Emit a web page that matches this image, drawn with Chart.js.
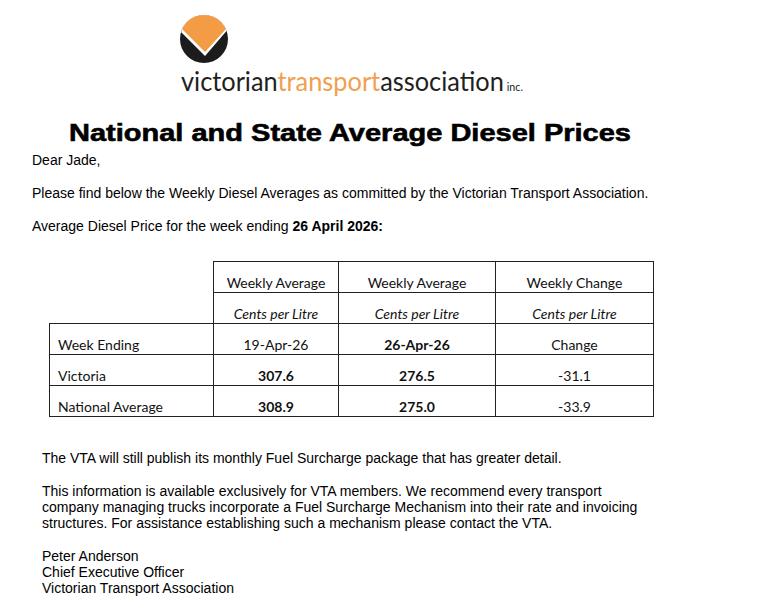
<!DOCTYPE html>
<html>
<head>
<meta charset="utf-8">
<script src="https://cdn.jsdelivr.net/npm/chart.js@4.4.1/dist/chart.umd.min.js"></script>
<style>
  html, body { margin: 0; padding: 0; background: #fff; }
  body { width: 758px; height: 612px; position: relative; overflow: hidden;
         font-family: "Liberation Sans", Arial, sans-serif; font-size: 14px; color: #000; }
  .abs { position: absolute; white-space: nowrap; }
  .line { line-height: 16px; }
  #logo { left: 180px; top: 15px; width: 48px; height: 48px; }
  #brand { left: 181px; top: 68px; font-family: Lato, sans-serif; font-weight: 400;
           font-size: 26px; line-height: 26px; color: #231f20; transform-origin: 0 0; }
  #brand .orange { color: #f0a050; }
  #brand .inc { font-size: 11px; margin-left: 3px; }
  #title { left: 0; top: 121px; width: 700px; text-align: center; font-weight: bold;
           font-size: 24px; line-height: 24px; transform-origin: 350px 0;
           -webkit-text-stroke: 0.6px #000; }
  table { position: absolute; left: 49px; top: 261px; border-collapse: collapse;
          table-layout: fixed; font-family: Lato, sans-serif; font-size: 14px; color: #111; }
  td { border: 1px solid #222; height: 29px; padding: 0 0 1px 0; line-height: 17px;
       vertical-align: bottom; text-align: center; white-space: nowrap; }
  td.blank { border-top: none; border-left: none; border-bottom: none; }
  td.label { text-align: left; padding-left: 8px; }
  td.unit { font-style: italic; }
  td.bold { font-weight: bold; }
</style>
</head>
<body>
<canvas id="logo" class="abs" width="48" height="48"></canvas>
<div id="brand" class="abs">victorian<span class="orange">transport</span>association<span class="inc">inc.</span></div>

<div id="title" class="abs">National and State Average Diesel Prices</div>

<div class="abs line" style="left:32px; top:152px;">Dear Jade,</div>
<div class="abs line" style="left:32px; top:185px;">Please find below the Weekly Diesel Averages as committed by the Victorian Transport Association.</div>
<div class="abs line" style="left:32px; top:218px;">Average Diesel Price for the week ending <b>26 April 2026:</b></div>

<table id="prices">
  <colgroup><col style="width:164px"><col style="width:125px"><col style="width:157px"><col style="width:158px"></colgroup>
  <tbody></tbody>
</table>

<div class="abs line" style="left:42px; top:450px;">The VTA will still publish its monthly Fuel Surcharge package that has greater detail.</div>
<div class="abs line" style="left:42px; top:483px;">This information is available exclusively for VTA members. We recommend every transport<br>company managing trucks incorporate a Fuel Surcharge Mechanism into their rate and invoicing<br>structures. For assistance establishing such a mechanism please contact the VTA.</div>
<div class="abs line" style="left:42px; top:548px;">Peter Anderson<br>Chief Executive Officer<br>Victorian Transport Association</div>

<script>
// table data
const headers = ['Weekly Average', 'Weekly Average', 'Weekly Change'];
const units = ['Cents per Litre', 'Cents per Litre', 'Cents per Litre'];
const weekEnding = ['19-Apr-26', '26-Apr-26', 'Change'];
const regions = ['Victoria', 'National Average'];
const previousWeek = [307.6, 308.9];
const currentWeek = [276.5, 275.0];
const weeklyChange = [-31.1, -33.9];

const body = document.querySelector('#prices tbody');

function addRow(cells) {
    const tr = document.createElement('tr');
    cells.forEach(c => {
        const td = document.createElement('td');
        td.textContent = c.text;
        if (c.cls) td.className = c.cls;
        tr.appendChild(td);
    });
    body.appendChild(tr);
}

addRow([{ text: '', cls: 'blank' }].concat(headers.map(h => ({ text: h }))));
addRow([{ text: '', cls: 'blank' }].concat(units.map(u => ({ text: u, cls: 'unit' }))));
addRow([{ text: 'Week Ending', cls: 'label' },
        { text: weekEnding[0] }, { text: weekEnding[1], cls: 'bold' }, { text: weekEnding[2] }]);
regions.forEach((r, i) => {
    addRow([{ text: r, cls: 'label' },
            { text: previousWeek[i].toFixed(1), cls: 'bold' },
            { text: currentWeek[i].toFixed(1), cls: 'bold' },
            { text: weeklyChange[i].toFixed(1) }]);
});

// fit the wordmark to the logo width
const brand = document.getElementById('brand');
const w = brand.getBoundingClientRect().width;
brand.style.transform = 'scaleX(' + (342 / w) + ')';

// stretch the heading to the width it has in the letter
const title = document.getElementById('title');
const range = document.createRange();
range.selectNodeContents(title);
const tw = range.getBoundingClientRect().width;
title.style.transform = 'scaleX(' + (562 / tw) + ')';

// logo: black disc from a pie, orange V painted on top
const logoV = {
    id: 'logoV',
    afterDatasetsDraw(chart) {
        const arc = chart.getDatasetMeta(0).data[0];
        const ctx = chart.ctx;
        const cx = arc.x, cy = arc.y, r = arc.outerRadius;
        const s = r / 24;
        ctx.save();
        ctx.beginPath();
        ctx.arc(cx, cy, r, 0, Math.PI * 2);
        ctx.clip();
        ctx.fillStyle = '#ffffff';
        ctx.beginPath();
        ctx.moveTo(cx - 30 * s, cy - 30 * s);
        ctx.lineTo(cx - 30 * s, cy - 14 * s);
        ctx.lineTo(cx + 1 * s, cy + 17 * s);
        ctx.lineTo(cx + 32 * s, cy - 19 * s);
        ctx.lineTo(cx + 32 * s, cy - 30 * s);
        ctx.closePath();
        ctx.fill();
        ctx.fillStyle = '#f39c45';
        ctx.beginPath();
        ctx.moveTo(cx - 30 * s, cy - 30 * s);
        ctx.lineTo(cx - 30 * s, cy - 18 * s);
        ctx.lineTo(cx + 1 * s, cy + 13 * s);
        ctx.lineTo(cx + 32 * s, cy - 21 * s);
        ctx.lineTo(cx + 32 * s, cy - 30 * s);
        ctx.closePath();
        ctx.fill();
        ctx.restore();
    }
};

new Chart(document.getElementById('logo').getContext('2d'), {
    type: 'pie',
    data: {
        labels: ['logo'],
        datasets: [{
            data: [1],
            backgroundColor: ['#1c1c1c'],
            borderWidth: 0
        }]
    },
    options: {
        responsive: false,
        animation: false,
        events: [],
        plugins: { legend: { display: false }, tooltip: { enabled: false } }
    },
    plugins: [logoV]
});
</script>
</body>
</html>
